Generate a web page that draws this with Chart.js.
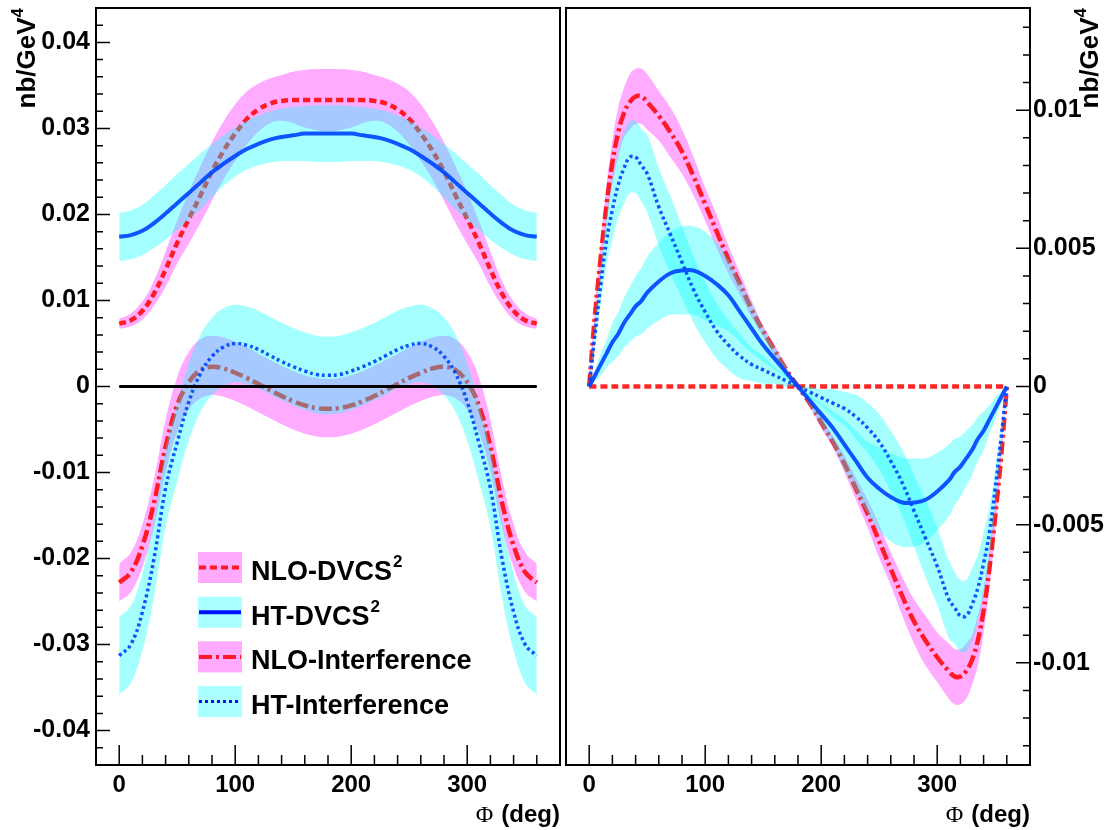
<!DOCTYPE html>
<html>
<head>
<meta charset="utf-8">
<script src="https://cdn.jsdelivr.net/npm/chart.js@4/dist/chart.umd.min.js"></script>
<style>
  body { margin: 0; background: #fff; }
  #wrap { position: relative; width: 1120px; height: 830px; }
  canvas { position: absolute; top: 0; }
</style>
</head>
<body>
<div id="wrap">
  <canvas id="left" width="563" height="830" style="left:0"></canvas>
  <canvas id="right" width="557" height="830" style="left:563px"></canvas>
</div>
<script>
// angles (deg) for the left panel curves
const phi = [0,10,20,30,40,50,60,70,80,90,100,110,120,130,140,150,160,170,180,
  190,200,210,220,230,240,250,260,270,280,290,300,310,320,330,340,350,360];
// angles (deg) for the right panel curves (finer near the ends)
const phiR = [0,5,10,15,20,25,30,35,40,45,50,60,70,80,90,100,110,120,130,140,150,160,170,180,
  190,200,210,220,230,240,250,260,270,280,290,300,310,315,320,325,330,335,340,345,350,355,360];
const phiEnds = [0, 360];

// ---- left panel (nb/GeV^4) ----
const nloDvcs = [0.0073,0.0077,0.0088,0.0108,0.0136,0.0167,0.0195,0.0222,0.0250,0.0274,0.0294,0.0311,0.0322,0.0329,0.0332,0.0333,0.0333,0.0333,0.0333,
  0.0333,0.0333,0.0333,0.0332,0.0329,0.0322,0.0311,0.0294,0.0274,0.0250,0.0222,0.0195,0.0167,0.0136,0.0108,0.0088,0.0077,0.0073];
const nloDvcsHi = [0.0079,0.0085,0.0099,0.0123,0.0157,0.0193,0.0226,0.0256,0.0284,0.0308,0.0328,0.0343,0.0352,0.0358,0.0362,0.0366,0.0368,0.0369,0.0369,
  0.0369,0.0368,0.0366,0.0362,0.0358,0.0352,0.0343,0.0328,0.0308,0.0284,0.0256,0.0226,0.0193,0.0157,0.0123,0.0099,0.0085,0.0079];
const nloDvcsLo = [0.0067,0.0070,0.0078,0.0094,0.0116,0.0143,0.0166,0.0190,0.0216,0.0241,0.0262,0.0281,0.0296,0.0306,0.0309,0.0306,0.0301,0.0298,0.0297,
  0.0298,0.0301,0.0306,0.0309,0.0306,0.0296,0.0281,0.0262,0.0241,0.0216,0.0190,0.0166,0.0143,0.0116,0.0094,0.0078,0.0070,0.0067];

const htDvcs = [0.0174,0.0176,0.0181,0.0190,0.0201,0.0213,0.0225,0.0237,0.0249,0.0259,0.0268,0.0276,0.0282,0.0287,0.0290,0.0292,0.0294,0.0294,0.0294,
  0.0294,0.0294,0.0292,0.0290,0.0287,0.0282,0.0276,0.0268,0.0259,0.0249,0.0237,0.0225,0.0213,0.0201,0.0190,0.0181,0.0176,0.0174];
const htDvcsHi = [0.0202,0.0205,0.0211,0.0222,0.0234,0.0247,0.0259,0.0271,0.0282,0.0292,0.0301,0.0309,0.0315,0.0320,0.0323,0.0325,0.0326,0.0327,0.0327,
  0.0327,0.0326,0.0325,0.0323,0.0320,0.0315,0.0309,0.0301,0.0292,0.0282,0.0271,0.0259,0.0247,0.0234,0.0222,0.0211,0.0205,0.0202];
const htDvcsLo = [0.0146,0.0148,0.0153,0.0161,0.0171,0.0182,0.0194,0.0206,0.0220,0.0233,0.0244,0.0252,0.0257,0.0260,0.0262,0.0262,0.0262,0.0261,0.0261,
  0.0261,0.0262,0.0262,0.0262,0.0260,0.0257,0.0252,0.0244,0.0233,0.0220,0.0206,0.0194,0.0182,0.0171,0.0161,0.0153,0.0148,0.0146];

const nloInt = [-0.0228,-0.0216,-0.0185,-0.0135,-0.0070,-0.0022,0.0005,0.0019,0.0023,0.0021,0.0016,0.0010,0.0003,-0.0004,-0.0011,-0.0017,-0.0022,-0.0025,-0.0026,
  -0.0025,-0.0022,-0.0017,-0.0011,-0.0004,0.0003,0.0010,0.0016,0.0021,0.0023,0.0019,0.0005,-0.0022,-0.0070,-0.0135,-0.0185,-0.0216,-0.0228];
const nloIntHi = [-0.0206,-0.0193,-0.0160,-0.0107,-0.0039,0.0011,0.0040,0.0055,0.0059,0.0057,0.0052,0.0046,0.0038,0.0031,0.0024,0.0018,0.0013,0.0010,0.0009,
  0.0010,0.0013,0.0018,0.0024,0.0031,0.0038,0.0046,0.0052,0.0057,0.0059,0.0055,0.0040,0.0011,-0.0039,-0.0107,-0.0160,-0.0193,-0.0206];
const nloIntLo = [-0.0250,-0.0239,-0.0210,-0.0163,-0.0100,-0.0053,-0.0027,-0.0014,-0.0010,-0.0012,-0.0017,-0.0023,-0.0030,-0.0037,-0.0044,-0.0050,-0.0055,-0.0058,-0.0059,
  -0.0058,-0.0055,-0.0050,-0.0044,-0.0037,-0.0030,-0.0023,-0.0017,-0.0012,-0.0010,-0.0014,-0.0027,-0.0053,-0.0100,-0.0163,-0.0210,-0.0239,-0.0250];

const htInt = [-0.0313,-0.0300,-0.0262,-0.0200,-0.0118,-0.0065,-0.0018,0.0015,0.0035,0.0046,0.0050,0.0048,0.0043,0.0036,0.0029,0.0023,0.0018,0.0014,0.0013,
  0.0014,0.0018,0.0023,0.0029,0.0036,0.0043,0.0048,0.0050,0.0046,0.0035,0.0015,-0.0018,-0.0065,-0.0118,-0.0200,-0.0262,-0.0300,-0.0313];
const htIntHi = [-0.0268,-0.0255,-0.0217,-0.0155,-0.0073,-0.0020,0.0027,0.0060,0.0080,0.0091,0.0095,0.0093,0.0088,0.0081,0.0074,0.0068,0.0063,0.0059,0.0058,
  0.0059,0.0063,0.0068,0.0074,0.0081,0.0088,0.0093,0.0095,0.0091,0.0080,0.0060,0.0027,-0.0020,-0.0073,-0.0155,-0.0217,-0.0255,-0.0268];
const htIntLo = [-0.0358,-0.0345,-0.0307,-0.0245,-0.0163,-0.0110,-0.0063,-0.0030,-0.0010,0.0001,0.0005,0.0003,-0.0002,-0.0009,-0.0016,-0.0022,-0.0027,-0.0031,-0.0032,
  -0.0031,-0.0027,-0.0022,-0.0016,-0.0009,-0.0002,0.0003,0.0005,0.0001,-0.0010,-0.0030,-0.0063,-0.0110,-0.0163,-0.0245,-0.0307,-0.0345,-0.0358];

const zeroLine = [0, 0];

// ---- right panel (nb/GeV^4) ----
const nloDvcsR = [0, 0];

const htDvcsR = [0,0.0004,0.0008,0.0012,0.0016,0.0019,0.0023,0.0026,0.0029,0.0031,0.0034,0.0038,0.0041,0.0042,0.0042,0.0040,0.0037,0.0033,0.0027,0.0021,0.0015,0.0010,0.0005,0,
  -0.0005,-0.0010,-0.0015,-0.0021,-0.0027,-0.0033,-0.0037,-0.0040,-0.0042,-0.0042,-0.0041,-0.0038,-0.0034,-0.0031,-0.0029,-0.0026,-0.0023,-0.0019,-0.0016,-0.0012,-0.0008,-0.0004,0];
const htDvcsRHi = [0,0.0006,0.0012,0.0017,0.0023,0.0027,0.0032,0.0036,0.0040,0.0043,0.0047,0.0052,0.0056,0.0058,0.0058,0.0056,0.0052,0.0046,0.0038,0.0030,0.0021,0.0014,0.0007,0,
  -0.0003,-0.0006,-0.0009,-0.0012,-0.0016,-0.0020,-0.0022,-0.0024,-0.0026,-0.0026,-0.0026,-0.0024,-0.0021,-0.0019,-0.0018,-0.0016,-0.0014,-0.0011,-0.0009,-0.0007,-0.0004,-0.0002,0];
const htDvcsRLo = [0,0.0002,0.0004,0.0007,0.0009,0.0011,0.0014,0.0016,0.0018,0.0019,0.0021,0.0024,0.0026,0.0026,0.0026,0.0024,0.0022,0.0020,0.0016,0.0012,0.0009,0.0006,0.0003,0,
  -0.0007,-0.0014,-0.0021,-0.0030,-0.0038,-0.0046,-0.0052,-0.0056,-0.0058,-0.0058,-0.0056,-0.0052,-0.0047,-0.0043,-0.0040,-0.0036,-0.0032,-0.0027,-0.0023,-0.0017,-0.0012,-0.0006,0];

const nloIntR = [0,0.0026,0.0047,0.0066,0.0081,0.0092,0.0099,0.0103,0.0105,0.0105,0.0103,0.0098,0.0092,0.0085,0.0076,0.0066,0.0056,0.0046,0.0037,0.0028,0.0020,0.0013,0.0006,0,
  -0.0006,-0.0013,-0.0020,-0.0028,-0.0037,-0.0046,-0.0056,-0.0066,-0.0076,-0.0085,-0.0092,-0.0098,-0.0103,-0.0105,-0.0105,-0.0103,-0.0099,-0.0092,-0.0081,-0.0066,-0.0047,-0.0026,0];
const nloIntRHi = [0,0.0029,0.0052,0.0073,0.0089,0.0101,0.0108,0.0113,0.0115,0.0115,0.0113,0.0107,0.0101,0.0093,0.0083,0.0072,0.0062,0.0051,0.0041,0.0031,0.0022,0.0015,0.0007,0,
  -0.0005,-0.0011,-0.0018,-0.0025,-0.0033,-0.0041,-0.0050,-0.0060,-0.0069,-0.0077,-0.0083,-0.0089,-0.0093,-0.0095,-0.0095,-0.0093,-0.0090,-0.0083,-0.0073,-0.0059,-0.0042,-0.0023,0];
const nloIntRLo = [0,0.0023,0.0042,0.0059,0.0073,0.0083,0.0090,0.0093,0.0095,0.0095,0.0093,0.0089,0.0083,0.0077,0.0069,0.0060,0.0050,0.0041,0.0033,0.0025,0.0018,0.0011,0.0005,0,
  -0.0007,-0.0015,-0.0022,-0.0031,-0.0041,-0.0051,-0.0062,-0.0072,-0.0083,-0.0093,-0.0101,-0.0107,-0.0113,-0.0115,-0.0115,-0.0113,-0.0108,-0.0101,-0.0089,-0.0073,-0.0052,-0.0029,0];

const htIntR = [0,0.0019,0.0037,0.0053,0.0064,0.0073,0.0079,0.0083,0.0083,0.0080,0.0077,0.0065,0.0055,0.0045,0.0035,0.0027,0.0020,0.0015,0.0011,0.0008,0.0006,0.0004,0.0002,0,
  -0.0002,-0.0004,-0.0006,-0.0008,-0.0011,-0.0015,-0.0020,-0.0027,-0.0035,-0.0045,-0.0055,-0.0065,-0.0077,-0.0080,-0.0083,-0.0083,-0.0079,-0.0073,-0.0064,-0.0053,-0.0037,-0.0019,0];
const htIntRHi = [0,0.0023,0.0044,0.0062,0.0075,0.0085,0.0092,0.0096,0.0096,0.0093,0.0091,0.0079,0.0069,0.0058,0.0047,0.0038,0.0030,0.0024,0.0019,0.0014,0.0011,0.0007,0.0004,0,
  0,-0.0001,-0.0001,-0.0002,-0.0003,-0.0006,-0.0010,-0.0016,-0.0023,-0.0032,-0.0041,-0.0051,-0.0063,-0.0067,-0.0070,-0.0070,-0.0066,-0.0061,-0.0053,-0.0044,-0.0030,-0.0015,0];
const htIntRLo = [0,0.0015,0.0030,0.0044,0.0053,0.0061,0.0066,0.0070,0.0070,0.0067,0.0063,0.0051,0.0041,0.0032,0.0023,0.0016,0.0010,0.0006,0.0003,0.0002,0.0001,0.0001,0,0,
  -0.0004,-0.0007,-0.0011,-0.0014,-0.0019,-0.0024,-0.0030,-0.0038,-0.0047,-0.0058,-0.0069,-0.0079,-0.0091,-0.0093,-0.0096,-0.0096,-0.0092,-0.0085,-0.0075,-0.0062,-0.0044,-0.0023,0];

const xTicks = [0, 100, 200, 300];

const PINK = 'rgba(255,0,255,0.33)';
const CYAN = 'rgba(0,255,255,0.35)';
const RED = 'rgba(255,0,0,0.85)';
const BLUE = 'rgba(0,70,255,0.92)';
const DASH = [7, 4];
const DASHDOT = [13, 4, 3, 4];
const DOT = [3, 3];
const FONT = "'Liberation Sans', Arial, sans-serif";

const xy = (xs, ys) => xs.map((x, i) => ({x, y: ys[i]}));

function addBand(ds, xs, hi, lo, color, order) {
  ds.push({data: xy(xs, hi), fill: ds.length + 1, backgroundColor: color, borderColor: 'transparent',
    borderWidth: 0, pointRadius: 0, tension: 0.4, order});
  ds.push({data: xy(xs, lo), fill: false, borderColor: 'transparent',
    borderWidth: 0, pointRadius: 0, tension: 0.4, order});
}
function addLine(ds, xs, ys, color, width, dash, order) {
  ds.push({data: xy(xs, ys), fill: false, borderColor: color, borderWidth: width, borderDash: dash,
    borderCapStyle: 'butt', pointRadius: 0, tension: 0.4, order});
}

function fmt(v) {
  if (Math.abs(v) < 1e-9) return '0';
  return String(parseFloat(v.toFixed(4)));
}

// frame, inward ticks, axis titles and (left only) legend
const decor = {
  id: 'decor',
  afterDraw(chart, args, o) {
    const ctx = chart.ctx, a = chart.chartArea;
    const xs = chart.scales.x, ys = chart.scales.y;
    ctx.save();
    ctx.strokeStyle = '#000';
    ctx.lineWidth = 1.5;
    ctx.beginPath();
    for (let v = 0; v <= 360; v += 20) {
      const px = xs.getPixelForValue(v);
      const len = v % 100 === 0 ? 20 : 10;
      ctx.moveTo(px, a.bottom); ctx.lineTo(px, a.bottom - len);
    }
    for (let k = -o.nMinor; k <= o.nMinor; k++) {
      const py = ys.getPixelForValue(k * o.minor);
      const len = k % 5 === 0 ? 14 : 7;
      if (o.side === 'left') { ctx.moveTo(a.left, py); ctx.lineTo(a.left + len, py); }
      else { ctx.moveTo(a.right, py); ctx.lineTo(a.right - len, py); }
    }
    ctx.stroke();
    ctx.lineWidth = 2;
    ctx.strokeRect(a.left, a.top, a.width, a.height);

    // x title
    ctx.fillStyle = '#000';
    ctx.textBaseline = 'alphabetic';
    ctx.textAlign = 'right';
    ctx.font = 'bold 24px ' + FONT;
    ctx.fillText('(deg)', a.right, 822);
    const wd = ctx.measureText('(deg)').width;
    ctx.font = "24px 'Liberation Serif', 'DejaVu Serif', serif";
    ctx.fillText('\u03A6', a.right - wd - 8, 822);

    // y title, rotated
    ctx.save();
    ctx.translate(o.titleX, 8);
    ctx.rotate(-Math.PI / 2);
    ctx.font = 'bold 17px ' + FONT;
    const w4 = ctx.measureText('4').width;
    ctx.textAlign = 'left';
    ctx.fillText('4', -w4, -12);
    ctx.font = 'bold 26px ' + FONT;
    ctx.textAlign = 'right';
    ctx.fillText('nb/GeV', -w4, 0);
    ctx.restore();

    if (o.legend) {
      const items = [
        {text: 'NLO-DVCS', sup: '2', fill: '#ffaaff', color: RED, dash: DASH, w: 4},
        {text: 'HT-DVCS', sup: '2', fill: '#aaffff', color: '#0010ff', dash: [], w: 4},
        {text: 'NLO-Interference', sup: '', fill: '#ffaaff', color: RED, dash: DASHDOT, w: 4},
        {text: 'HT-Interference', sup: '', fill: '#aaffff', color: '#0010ff', dash: DOT, w: 3},
      ];
      items.forEach((it, i) => {
        const top = 552 + i * 44.7;
        ctx.fillStyle = it.fill;
        ctx.fillRect(198, top, 44, 31);
        ctx.strokeStyle = it.color;
        ctx.lineWidth = it.w;
        ctx.setLineDash(it.dash);
        ctx.beginPath();
        ctx.moveTo(199, top + 15.5); ctx.lineTo(241, top + 15.5);
        ctx.stroke();
        ctx.setLineDash([]);
        ctx.fillStyle = '#000';
        ctx.textAlign = 'left';
        ctx.font = 'bold 27px ' + FONT;
        ctx.fillText(it.text, 251, top + 28);
        if (it.sup) {
          const w = ctx.measureText(it.text).width;
          ctx.font = 'bold 17px ' + FONT;
          ctx.fillText(it.sup, 251 + w + 1, top + 15);
        }
      });
    }
    ctx.restore();
  }
};

function makeChart(id, datasets, yMax, yStep, side, padding, yWidth, decorOpts) {
  return new Chart(document.getElementById(id).getContext('2d'), {
    type: 'line',
    data: {datasets},
    options: {
      responsive: false,
      animation: false,
      devicePixelRatio: 1,
      layout: {padding},
      plugins: {legend: {display: false}, tooltip: {enabled: false}, decor: decorOpts},
      scales: {
        x: {
          type: 'linear', min: -20, max: 380,
          grid: {display: false, drawTicks: false}, border: {display: false},
          afterBuildTicks: s => { s.ticks = xTicks.map(v => ({value: v})); },
          ticks: {color: '#000', padding: 6, maxRotation: 0, autoSkip: false,
            font: {family: FONT, size: 24, weight: 'bold'}},
          afterFit: s => { s.height = 65; s.paddingLeft = 0; s.paddingRight = 0; },
        },
        y: {
          type: 'linear', position: side, min: -yMax, max: yMax,
          grid: {display: false, drawTicks: false}, border: {display: false},
          ticks: {stepSize: yStep, includeBounds: false, color: '#000', padding: side === 'left' ? 6 : 3,
            font: {family: FONT, size: 25, weight: 'bold'}, callback: v => fmt(v)},
          afterFit: s => { s.width = yWidth; s.paddingTop = 0; s.paddingBottom = 0; },
        },
      },
    },
    plugins: [decor],
  });
}

// left panel: bands below lines, cyan above red, zero line on top
const dsL = [];
addBand(dsL, phi, nloDvcsHi, nloDvcsLo, PINK, 10);
addBand(dsL, phi, nloIntHi, nloIntLo, PINK, 10);
addLine(dsL, phi, nloDvcs, RED, 4.5, DASH, 8);
addLine(dsL, phi, nloInt, RED, 4.5, DASHDOT, 8);
addBand(dsL, phi, htDvcsHi, htDvcsLo, CYAN, 6);
addBand(dsL, phi, htIntHi, htIntLo, CYAN, 6);
addLine(dsL, phi, htDvcs, BLUE, 4, [], 4);
addLine(dsL, phi, htInt, BLUE, 3.5, DOT, 4);
addLine(dsL, phiEnds, zeroLine, '#000', 3, [], 2);

makeChart('left', dsL, 0.044, 0.01, 'left', {top: 8, right: 3, left: 0, bottom: 0}, 96,
  {side: 'left', minor: 0.002, nMinor: 22, titleX: 35, legend: true});

// right panel
const dsR = [];
addBand(dsR, phiR, nloIntRHi, nloIntRLo, PINK, 10);
addLine(dsR, phiEnds, nloDvcsR, RED, 4.5, DASH, 8);
addLine(dsR, phiR, nloIntR, RED, 4.5, DASHDOT, 8);
addBand(dsR, phiR, htDvcsRHi, htDvcsRLo, CYAN, 6);
addBand(dsR, phiR, htIntRHi, htIntRLo, CYAN, 6);
addLine(dsR, phiR, htDvcsR, BLUE, 4, [], 4);
addLine(dsR, phiR, htIntR, BLUE, 3.5, DOT, 4);

makeChart('right', dsR, 0.0137, 0.005, 'right', {top: 8, right: 0, left: 3, bottom: 0}, 90,
  {side: 'right', minor: 0.001, nMinor: 13, titleX: 535, legend: false});
</script>
</body>
</html>
